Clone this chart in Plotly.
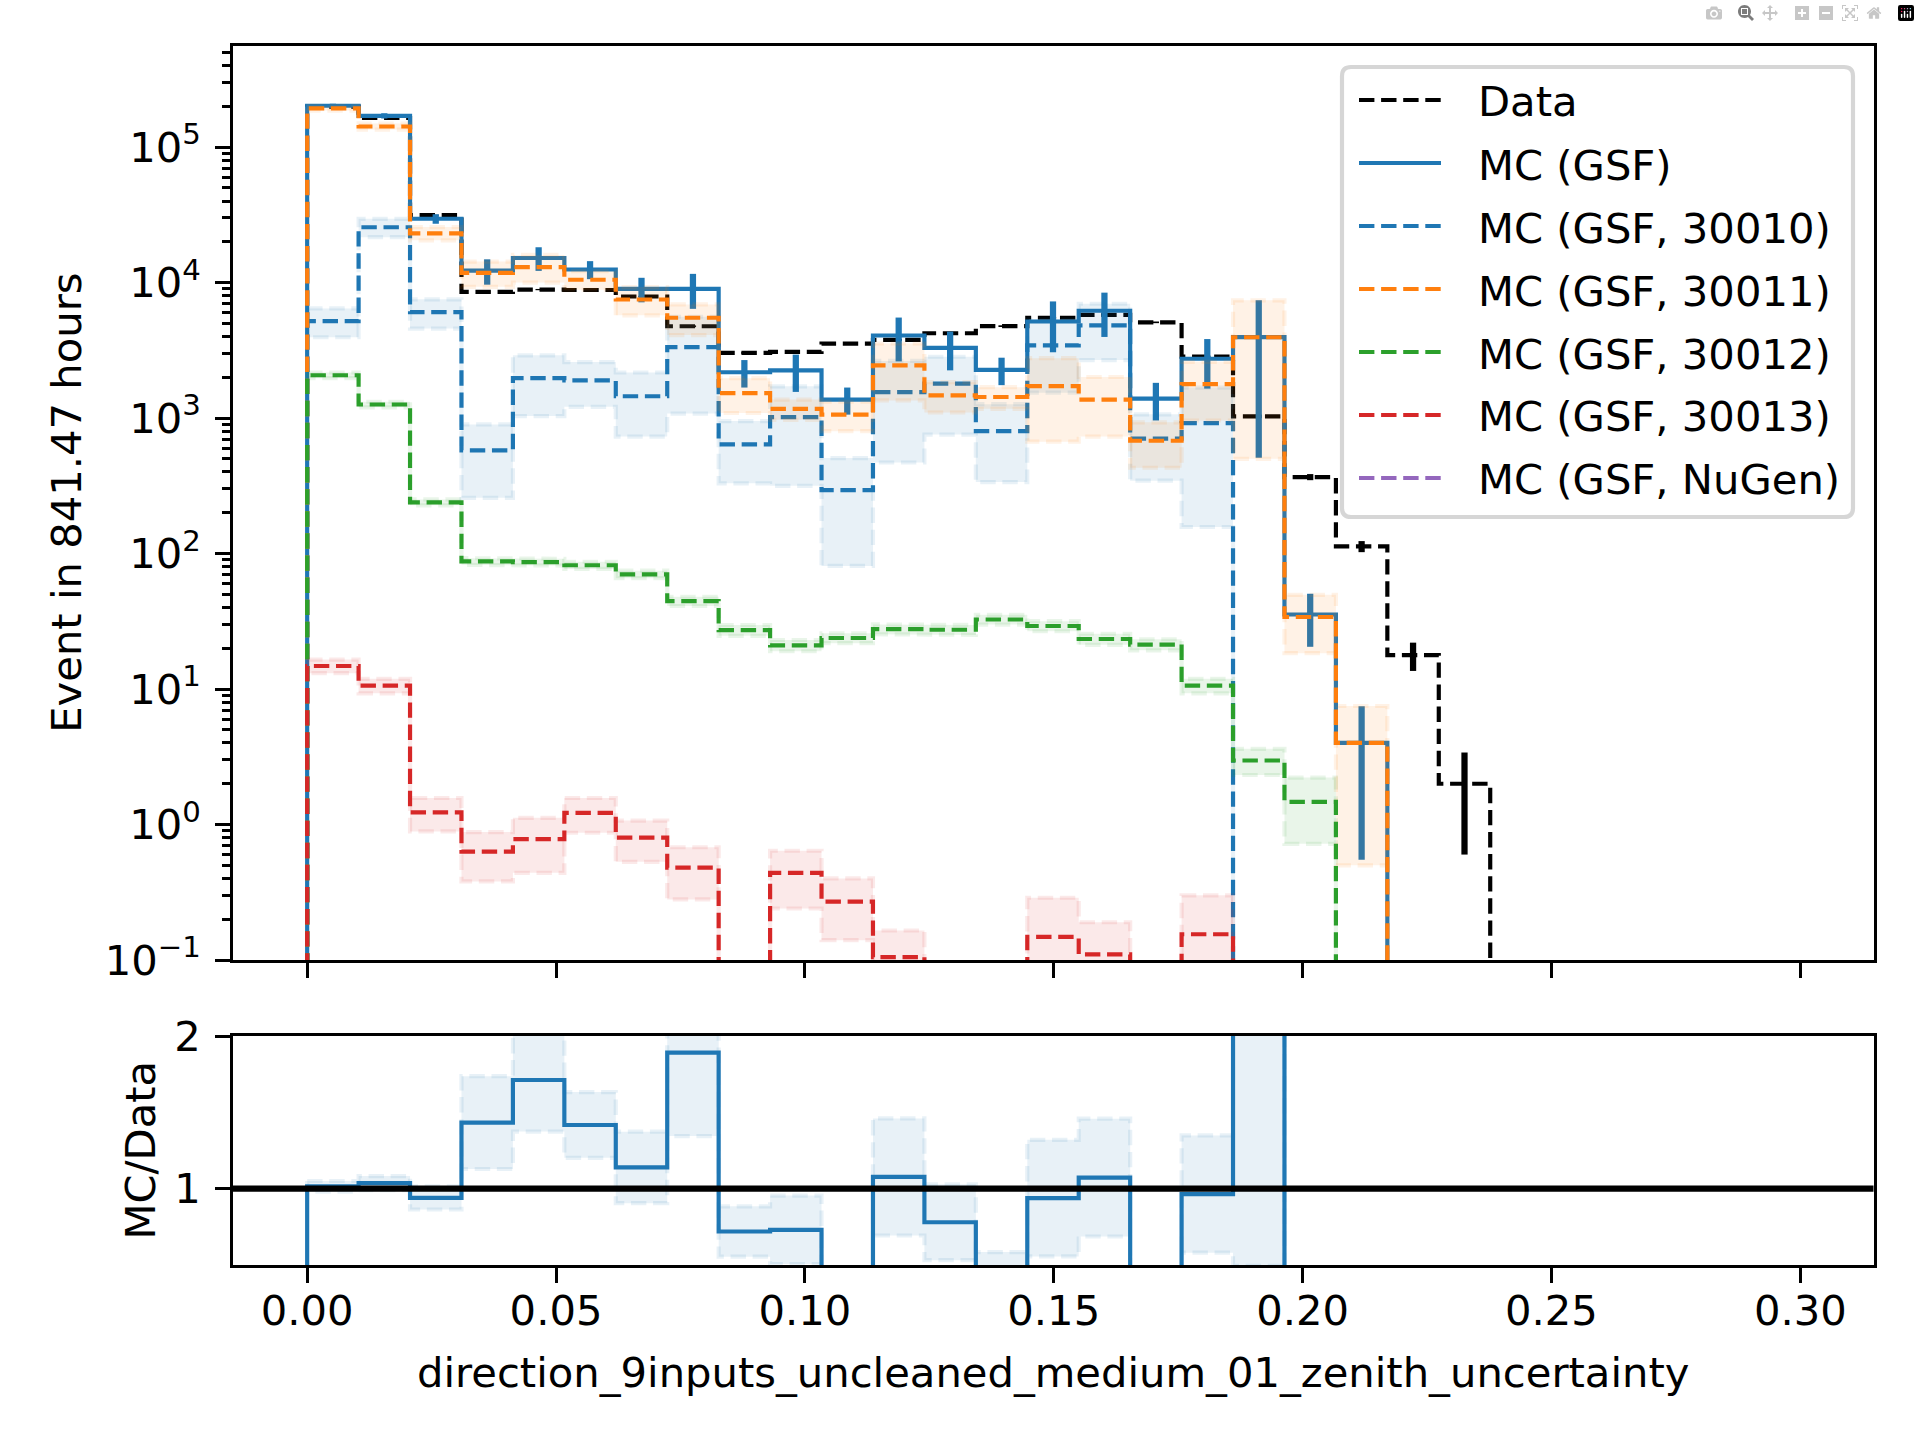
import numpy as np
import plotly.graph_objects as go

# ---------------- data ----------------
X_MIN, X_MAX, N_BINS = 0.0, 0.2997, 29

data_vals = [199000, 164000, 31500, 8550, 8880, 8820, 7900, 4760, 3030, 3080, 3540, 3780,
             4230, 4770, 5500, 5780, 5090, 2840, 1030, 367, 113, 17.8, 2.0,
             0, 0, 0, 0, 0, 0]
data_errs = [446, 405, 177, 92, 94, 94, 89, 69, 55, 56, 59, 61,
             65, 69, 74, 76, 71, 53, 32, 19, 10.6, 4.2, 1.4,
             0, 0, 0, 0, 0, 0]

mc_total = [202000, 170000, 29600, 12250, 15200, 12500, 9000, 9000, 2180, 2250, 1370, 4070,
            3300, 2270, 5160, 6200, 1390, 2740, 3960, 35.5, 4.0,
            0, 0, 0, 0, 0, 0, 0, 0]
mc_total_err = [7000, 7500, 2400, 2600, 3000, 1900, 1850, 2600, 500, 690, 310, 1450,
                1050, 520, 2100, 2230, 430, 1090, 3450, 15, 3.45,
                0, 0, 0, 0, 0, 0, 0, 0]

mc_30010 = [5200, 25600, 6050, 578, 1970, 1900, 1450, 3340, 640, 1016, 294, 1555,
            1795, 802, 3440, 4830, 705, 918,
            0, 0, 0, 0, 0, 0, 0, 0, 0, 0, 0]
mc_30010_err = [1250, 3950, 1470, 320, 935, 690, 720, 2260, 310, 700, 213, 1085,
                1040, 465, 1900, 2150, 360, 761,
                0, 0, 0, 0, 0, 0, 0, 0, 0, 0, 0]

mc_30011 = [193000, 142000, 23100, 11800, 13000, 10500, 7500, 5500, 1530, 1170, 1060, 2450,
            1470, 1430, 1720, 1370, 680, 1780, 3950, 34, 4.0,
            0, 0, 0, 0, 0, 0, 0, 0]
mc_30011_err = [7000, 7300, 2600, 2500, 3000, 1650, 1770, 1400, 440, 200, 260, 1100,
                370, 260, 1050, 640, 250, 820, 3450, 15.6, 3.5,
                0, 0, 0, 0, 0, 0, 0, 0]

mc_30012 = [2070, 1260, 239, 87.5, 86.5, 82, 70.3, 44.5, 27.2, 21.0, 23.8, 27.7,
            27.4, 32.6, 29.2, 23.4, 21.3, 10.6, 2.97, 1.47,
            0, 0, 0, 0, 0, 0, 0, 0, 0]
mc_30012_err = [100, 60, 12, 5, 5, 5, 4.5, 3.5, 2.5, 2, 2, 2.3,
                2.3, 2.7, 2.5, 2.2, 2, 1.3, 0.65, 0.75,
                0, 0, 0, 0, 0, 0, 0, 0, 0]

mc_30013 = [14.8, 10.6, 1.23, 0.63, 0.78, 1.22, 0.80, 0.48, 0, 0.44, 0.27, 0.105,
            0, 0, 0.148, 0.11, 0, 0.155,
            0, 0, 0, 0, 0, 0, 0, 0, 0, 0, 0]
mc_30013_err = [1.7, 1.3, 0.34, 0.25, 0.34, 0.35, 0.27, 0.2, 0, 0.2, 0.13, 0.06,
                0, 0, 0.14, 0.08, 0, 0.145,
                0, 0, 0, 0, 0, 0, 0, 0, 0, 0, 0]

mc_nugen = [0] * N_BINS
mc_nugen_err = [0] * N_BINS

legend_labels = ["Data", "MC (GSF)", "MC (GSF, 30010)", "MC (GSF, 30011)",
                 "MC (GSF, 30012)", "MC (GSF, 30013)", "MC (GSF, NuGen)"]

x_tick_vals = [0.0, 0.05, 0.10, 0.15, 0.20, 0.25, 0.30]
x_tick_text = ["0.00", "0.05", "0.10", "0.15", "0.20", "0.25", "0.30"]
y_tick_vals = [1e-1, 1e0, 1e1, 1e2, 1e3, 1e4, 1e5]
y_tick_text = ["10<sup>\u22121</sup>", "10<sup>0</sup>", "10<sup>1</sup>", "10<sup>2</sup>",
               "10<sup>3</sup>", "10<sup>4</sup>", "10<sup>5</sup>"]

x_title = "direction_9inputs_uncleaned_medium_01_zenith_uncertainty"
y_title = "Event in 841.47 hours"
r_title = "MC/Data"

# ---------------- styling ----------------
W, H = 1920, 1440
FONT = "DejaVu Sans"
FS = 41.7
LW = 4.17
ELW = 6.25
DASH = "15.4px,6.7px"
C_BLUE = "#1f77b4"
C_ORANGE = "#ff7f0e"
C_GREEN = "#2ca02c"
C_RED = "#d62728"
C_PURPLE = "#9467bd"
FLOOR = 1e-4

edges = np.linspace(X_MIN, X_MAX, N_BINS + 1)
centers = 0.5 * (edges[:-1] + edges[1:])


def rgba(hexc, a):
    h = hexc.lstrip("#")
    return "rgba(%d,%d,%d,%.3f)" % (int(h[0:2], 16), int(h[2:4], 16), int(h[4:6], 16), a)


def step_path(vals, floor):
    xs, ys = [edges[0]], [floor]
    for i, v in enumerate(vals):
        y = v if v > 0 else floor
        xs += [edges[i], edges[i + 1]]
        ys += [y, y]
    xs.append(edges[-1])
    ys.append(floor)
    return xs, ys


def band_path(lo, hi):
    xs, ys = [], []
    for i in range(len(hi)):
        xs += [edges[i], edges[i + 1]]
        ys += [hi[i], hi[i]]
    for i in reversed(range(len(lo))):
        xs += [edges[i + 1], edges[i]]
        ys += [lo[i], lo[i]]
    xs.append(xs[0])
    ys.append(ys[0])
    return xs, ys


def err_segments(vals, errs, floor):
    xs, ys = [], []
    for c, v, e in zip(centers, vals, errs):
        if v > 0 and e > 0:
            xs += [c, c, None]
            ys += [max(v - e, floor), v + e, None]
    return xs, ys


fig = go.Figure()


def add_line(xs, ys, color, dash, width, xa="x", ya="y"):
    fig.add_trace(go.Scatter(x=xs, y=ys, mode="lines", xaxis=xa, yaxis=ya,
                             line=dict(color=color, width=width, dash=dash),
                             hoverinfo="skip", showlegend=False))


def add_band(xs, ys, color, xa="x", ya="y"):
    fig.add_trace(go.Scatter(x=xs, y=ys, mode="lines", xaxis=xa, yaxis=ya,
                             fill="toself", fillcolor=rgba(color, 0.1),
                             line=dict(color=rgba(color, 0.1), width=LW, dash=DASH),
                             hoverinfo="skip", showlegend=False))


# Data
xs, ys = step_path(data_vals, FLOOR)
add_line(xs, ys, "black", DASH, LW)
xs, ys = err_segments(data_vals, data_errs, FLOOR)
add_line(xs, ys, "black", "solid", ELW)

# MC total
xs, ys = step_path(mc_total, FLOOR)
add_line(xs, ys, C_BLUE, "solid", LW)
xs, ys = err_segments(mc_total, mc_total_err, FLOOR)
add_line(xs, ys, C_BLUE, "solid", ELW)

# components
components = [(mc_30010, mc_30010_err, C_BLUE),
              (mc_30011, mc_30011_err, C_ORANGE),
              (mc_30012, mc_30012_err, C_GREEN),
              (mc_30013, mc_30013_err, C_RED),
              (mc_nugen, mc_nugen_err, C_PURPLE)]
for vals, errs, col in components:
    xs, ys = step_path(vals, FLOOR)
    add_line(xs, ys, col, DASH, LW)
    lo = [max(v - e, FLOOR) if v > 0 else FLOOR for v, e in zip(vals, errs)]
    hi = [max(v + e, FLOOR) if v > 0 else FLOOR for v, e in zip(vals, errs)]
    bx, by = band_path(lo, hi)
    add_band(bx, by, col)

# ---------------- ratio panel ----------------
ratio = [m / d if d > 0 else None for m, d in zip(mc_total, data_vals)]
r_lo = [(m - e) / d if d > 0 else 0 for m, e, d in zip(mc_total, mc_total_err, data_vals)]
r_hi = [(m + e) / d if d > 0 else 0 for m, e, d in zip(mc_total, mc_total_err, data_vals)]

rx, ry = [edges[0]], [0]
for i, r in enumerate(ratio):
    if r is None:
        rx.append(None)
        ry.append(None)
    else:
        rx += [edges[i], edges[i + 1]]
        ry += [r, r]

bx, by = band_path(r_lo, r_hi)
add_band(bx, by, C_BLUE, "x2", "y2")
add_line(rx, ry, C_BLUE, "solid", LW, "x2", "y2")

# ---------------- layout ----------------
L, R = 233.0, 1873.5
MAIN_T, MAIN_B = 45.5, 960.0
RAT_T, RAT_B = 1036.0, 1265.0


def px(x):
    return x / W


def py(y):
    return 1 - y / H


X_RANGE = [-0.0149, 0.3147]
tickfont = dict(family=FONT, size=FS, color="black")

common_x = dict(range=X_RANGE, domain=[px(L), px(R)], showgrid=False, zeroline=False,
                showline=True, linecolor="black", linewidth=3.33, mirror=True,
                ticks="outside", ticklen=14.6, tickwidth=3.33, tickcolor="black",
                tickmode="array", tickvals=x_tick_vals, ticktext=x_tick_text,
                tickfont=tickfont)

minor_vals = [m * 10.0 ** e for e in range(-1, 6) for m in range(2, 10)]

fig.update_layout(
    width=W, height=H,
    margin=dict(l=0, r=0, t=0, b=0, autoexpand=False),
    paper_bgcolor="white", plot_bgcolor="white",
    showlegend=False,
    font=dict(family=FONT, size=FS, color="black"),
    xaxis=dict(common_x, anchor="y", showticklabels=False),
    yaxis=dict(type="log", range=[-1, 5.75], domain=[py(MAIN_B), py(MAIN_T)], anchor="x",
               showgrid=False, zeroline=False, showline=True, linecolor="black",
               linewidth=3.33, mirror=True, ticks="outside", ticklen=14.6, tickwidth=3.33,
               tickcolor="black", tickmode="array", tickvals=y_tick_vals,
               ticktext=y_tick_text, tickfont=tickfont, ticklabelstandoff=6,
               minor=dict(tickmode="array", tickvals=minor_vals, ticks="outside",
                          ticklen=8.3, tickwidth=2.5, tickcolor="black", showgrid=False)),
    xaxis2=dict(common_x, anchor="y2", showticklabels=True, ticklabelstandoff=-8),
    yaxis2=dict(range=[0.5, 2.0], domain=[py(RAT_B), py(RAT_T)], anchor="x2",
                showgrid=False, zeroline=False, showline=True, linecolor="black",
                linewidth=3.33, mirror=True, ticks="outside", ticklen=14.6, tickwidth=3.33,
                tickcolor="black", tickmode="array", tickvals=[1, 2], ticktext=["1", "2"],
                tickfont=tickfont, ticklabelstandoff=6),
)

shapes = []
annotations = []

# horizontal reference line at ratio = 1
shapes.append(dict(type="line", xref="x2 domain", yref="y2", x0=0, x1=1, y0=1, y1=1,
                   line=dict(color="black", width=ELW), layer="above"))

# axis titles
annotations.append(dict(text=x_title, xref="paper", yref="paper", x=px((L + R) / 2),
                        y=py(1372), xanchor="center", yanchor="middle", showarrow=False,
                        font=dict(family=FONT, size=FS, color="black")))
annotations.append(dict(text=y_title, xref="paper", yref="paper", x=px(67),
                        y=py((MAIN_T + MAIN_B) / 2), xanchor="center", yanchor="middle",
                        textangle=-90, showarrow=False,
                        font=dict(family=FONT, size=FS, color="black")))
annotations.append(dict(text=r_title, xref="paper", yref="paper", x=px(140),
                        y=py((RAT_T + RAT_B) / 2), xanchor="center", yanchor="middle",
                        textangle=-90, showarrow=False,
                        font=dict(family=FONT, size=FS, color="black")))

# legend (matplotlib style)
LX0, LX1, LY0, LY1, RAD = 1342.0, 1853.0, 67.0, 517.0, 9.0
rx_, ry_ = RAD / W, RAD / H
x0, x1, y0, y1 = px(LX0), px(LX1), py(LY1), py(LY0)
path = ("M %f,%f L %f,%f Q %f,%f %f,%f L %f,%f Q %f,%f %f,%f L %f,%f Q %f,%f %f,%f "
        "L %f,%f Q %f,%f %f,%f Z") % (
    x0 + rx_, y0, x1 - rx_, y0, x1, y0, x1, y0 + ry_,
    x1, y1 - ry_, x1, y1, x1 - rx_, y1,
    x0 + rx_, y1, x0, y1, x0, y1 - ry_,
    x0, y0 + ry_, x0, y0, x0 + rx_, y0)
shapes.append(dict(type="path", xref="paper", yref="paper", path=path,
                   fillcolor="rgba(255,255,255,0.8)",
                   line=dict(color="rgba(204,204,204,0.8)", width=4.17), layer="above"))

leg_styles = [("black", DASH), (C_BLUE, "solid"), (C_BLUE, DASH), (C_ORANGE, DASH),
              (C_GREEN, DASH), (C_RED, DASH), (C_PURPLE, DASH)]
for k, (lab, (col, dsh)) in enumerate(zip(legend_labels, leg_styles)):
    yc = 100.0 + 63.0 * k
    shapes.append(dict(type="line", xref="paper", yref="paper", x0=px(1359), x1=px(1441),
                       y0=py(yc), y1=py(yc), line=dict(color=col, width=LW, dash=dsh),
                       layer="above"))
    annotations.append(dict(text=lab, xref="paper", yref="paper", x=px(1476), y=py(yc + 2),
                            xanchor="left", yanchor="middle", showarrow=False,
                            font=dict(family=FONT, size=FS, color="black")))

fig.update_layout(shapes=shapes, annotations=annotations)

fig.write_html("out.html", post_script="document.body.style.margin='0px';")
